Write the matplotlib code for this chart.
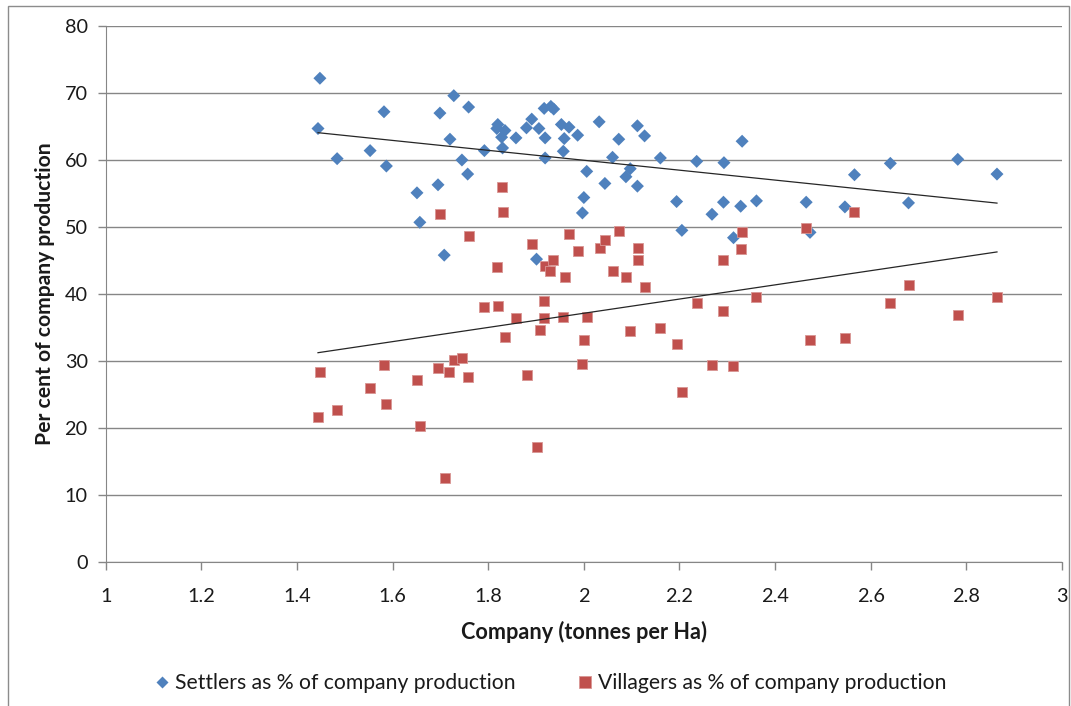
import numpy as np
import matplotlib
matplotlib.use("Agg")
import matplotlib.pyplot as plt
from matplotlib.lines import Line2D
from matplotlib.patches import Rectangle

plt.rcParams['font.family'] = ['Lato', 'DejaVu Sans']

# Company yield (tonnes per Ha) and shares of company production
settlers_x = [1.448, 1.444, 1.484, 1.553, 1.582, 1.587, 1.651, 1.657, 1.695, 1.699,
              1.708, 1.720, 1.728, 1.745, 1.757, 1.759, 1.792, 1.820, 1.818, 1.835,
              1.828, 1.830, 1.858, 1.880, 1.891, 1.906, 1.917, 1.919, 1.919, 1.901,
              1.931, 1.937, 1.953, 1.969, 1.959, 1.957, 1.987, 2.006, 2.000, 1.997,
              2.032, 2.044, 2.060, 2.073, 2.088, 2.097, 2.112, 2.127, 2.112, 2.160,
              2.194, 2.205, 2.236, 2.268, 2.293, 2.292, 2.331, 2.328, 2.361, 2.313,
              2.465, 2.473, 2.546, 2.566, 2.641, 2.679, 2.782, 2.864]
settlers_pct = [72.2, 64.7, 60.2, 61.4, 67.2, 59.1, 55.1, 50.7, 56.3, 67.0,
                45.8, 63.1, 69.6, 60.0, 57.9, 67.9, 61.4, 65.3, 64.7, 64.4,
                63.4, 61.8, 63.3, 64.8, 66.1, 64.7, 67.7, 63.3, 60.3, 45.2,
                68.0, 67.6, 65.3, 64.9, 63.2, 61.3, 63.7, 58.3, 54.4, 52.1,
                65.7, 56.5, 60.4, 63.1, 57.5, 58.7, 65.1, 63.6, 56.1, 60.3,
                53.8, 49.5, 59.8, 51.9, 59.6, 53.7, 62.8, 53.1, 53.9, 48.4,
                53.7, 49.2, 53.0, 57.8, 59.5, 53.6, 60.1, 57.9]

villagers_x = [1.449, 1.444, 1.483, 1.552, 1.582, 1.587, 1.651, 1.657, 1.694, 1.700,
               1.709, 1.719, 1.728, 1.746, 1.757, 1.759, 1.792, 1.820, 1.819, 1.835,
               1.828, 1.830, 1.858, 1.881, 1.891, 1.908, 1.917, 1.917, 1.919, 1.902,
               1.930, 1.936, 1.957, 1.969, 1.960, 1.987, 2.006, 2.000, 1.996,
               2.033, 2.045, 2.060, 2.073, 2.088, 2.096, 2.113, 2.127, 2.114, 2.160,
               2.194, 2.205, 2.236, 2.269, 2.291, 2.292, 2.331, 2.328, 2.361, 2.312,
               2.465, 2.473, 2.546, 2.566, 2.641, 2.679, 2.782, 2.864]
villagers_pct = [28.4, 21.6, 22.7, 26.0, 29.4, 23.6, 27.2, 20.3, 29.0, 51.9,
                 12.5, 28.4, 30.2, 30.4, 27.6, 48.7, 38.0, 38.2, 44.1, 33.6,
                 55.9, 52.3, 36.4, 27.9, 47.5, 34.6, 38.9, 36.4, 44.2, 17.2,
                 43.4, 45.1, 36.6, 48.9, 42.5, 46.4, 36.5, 33.1, 29.5,
                 46.8, 48.0, 43.5, 49.4, 42.6, 34.5, 46.9, 41.0, 45.1, 34.9,
                 32.5, 25.4, 38.6, 29.4, 45.1, 37.5, 49.2, 46.7, 39.5, 29.2,
                 49.9, 33.2, 33.5, 52.2, 38.7, 41.3, 36.9, 39.6]

x_ticks = [1, 1.2, 1.4, 1.6, 1.8, 2, 2.2, 2.4, 2.6, 2.8, 3]
x_tick_labels = ["1", "1.2", "1.4", "1.6", "1.8", "2", "2.2", "2.4", "2.6", "2.8", "3"]
y_ticks = [0, 10, 20, 30, 40, 50, 60, 70, 80]

BLUE = "#4F81BD"
RED = "#C0504D"
GRID = "#868686"
TEXT = "#1a1a1a"

W, H = 1071, 706
fig = plt.figure(figsize=(W / 100, H / 100), dpi=100)

# chart frame
fig.patches.append(Rectangle((8 / W, -0.01), (1069 - 8) / W, 1 - 6 / H + 0.01,
                             transform=fig.transFigure, fill=False,
                             edgecolor="#8c8c8c", linewidth=1.0))

ax = fig.add_axes([105.7 / W, 1 - 562 / H, (1062 - 105.7) / W, (562 - 26) / H])
ax.set_xlim(1, 3)
ax.set_ylim(0, 80)

ax.scatter(settlers_x, settlers_pct, marker="D", s=44, color=BLUE,
           edgecolors="none", zorder=3)
ax.scatter(villagers_x, villagers_pct, marker="s", s=60, color=RED,
           edgecolors="#d99694", linewidths=0.6, zorder=3)

# linear trend lines over each series' range
for xs, ys in ((settlers_x, settlers_pct), (villagers_x, villagers_pct)):
    xs = np.asarray(xs)
    slope, icpt = np.polyfit(xs, np.asarray(ys), 1)
    xr = np.array([xs.min(), xs.max()])
    ax.plot(xr, slope * xr + icpt, color="#262626", linewidth=0.9, zorder=4)

ax.set_xticks(x_ticks)
ax.set_xticklabels(x_tick_labels)
ax.set_yticks(y_ticks)
ax.grid(axis="y", color=GRID, linewidth=1.0)
ax.set_axisbelow(True)
for side in ("top", "right"):
    ax.spines[side].set_visible(False)
ax.spines["left"].set_color(GRID)
ax.spines["bottom"].set_color(GRID)
ax.tick_params(axis="both", direction="out", length=6, width=1.0, color=GRID,
               labelsize=14.3, labelcolor=TEXT, pad=7)
ax.tick_params(axis="x", pad=13)

ax.set_xlabel("Company (tonnes per Ha)", fontsize=15.6, fontweight="bold",
              color=TEXT, labelpad=11)
ax.set_ylabel("Per cent of company production", fontsize=15.2,
              fontweight="bold", color=TEXT, labelpad=7)

handles = [
    Line2D([], [], marker="D", linestyle="none", color=BLUE, markersize=6.5,
           markeredgecolor="none"),
    Line2D([], [], marker="s", linestyle="none", color=RED, markersize=8.5,
           markeredgecolor="#d99694", markeredgewidth=0.6),
]
fig.legend(handles, ["Settlers as % of company production",
                     "Villagers as % of company production"],
           loc="center", bbox_to_anchor=(550 / W, 1 - 683 / H), ncol=2,
           frameon=False, fontsize=15.2, handlelength=0.8, handletextpad=0.25,
           columnspacing=2.85, labelcolor=TEXT)

fig.savefig("out.png", dpi=100)
